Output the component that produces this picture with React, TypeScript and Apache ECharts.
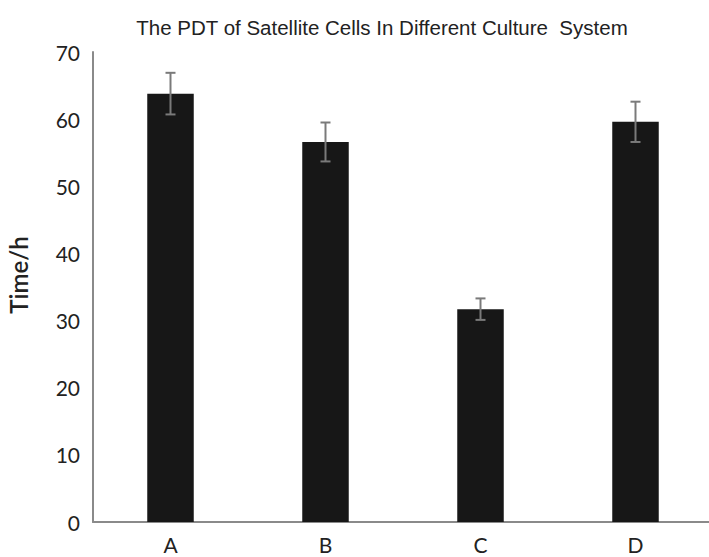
import React, { useEffect, useRef } from "react";
import * as echarts from "echarts";

const categories = ["A", "B", "C", "D"];
const means = [63.8, 56.6, 31.7, 59.6];
const errors = [3.1, 2.9, 1.6, 3.0];
const yTicks = { min: 0, max: 70, interval: 10 };

export default function App() {
  const ref = useRef<HTMLDivElement>(null);
  useEffect(() => {
    if (!ref.current) return;
    const chart = echarts.init(ref.current, undefined, { renderer: "svg" });
    const errData = categories.map((c, i) => [i, means[i] - errors[i], means[i] + errors[i]]);
    chart.setOption({
      animation: false,
      backgroundColor: "#ffffff",
      title: {
        text: "The PDT of Satellite Cells In Different Culture  System",
        left: 377,
        textAlign: "center",
        top: 12,
        textStyle: { fontFamily: "Liberation Sans, Arial, sans-serif", fontSize: 20.5, fontWeight: "normal", color: "#222" },
      },
      grid: { left: 93, right: -4, top: 52, bottom: 35, containLabel: false, outerBoundsMode: "none" },
      xAxis: {
        type: "category",
        data: categories,
        axisLine: { lineStyle: { color: "#8a8a8a", width: 2 } },
        axisTick: { show: false },
        axisLabel: { fontFamily: "Lato, sans-serif", fontSize: 21, color: "#222", margin: 12 },
      },
      yAxis: {
        type: "value",
        min: yTicks.min,
        max: yTicks.max,
        interval: yTicks.interval,
        name: "Time/h",
        nameLocation: "middle",
        nameGap: 63,
        nameTextStyle: { fontFamily: "Lato, sans-serif", fontSize: 24, fontWeight: 600, color: "#222", padding: [0, 0, 0, 24] },
        axisLine: { show: true, lineStyle: { color: "#8a8a8a", width: 2 } },
        axisTick: { show: false },
        splitLine: { show: false },
        axisLabel: { fontFamily: "Lato, sans-serif", fontSize: 21, color: "#222", margin: 13 },
      },
      series: [
        {
          type: "bar",
          data: means,
          barWidth: "30%",
          itemStyle: { color: "#171717" },
        },
        {
          type: "custom",
          data: errData,
          z: 10,
          renderItem: (params: any, api: any) => {
            const x = api.value(0);
            const lo = api.coord([x, api.value(1)]);
            const hi = api.coord([x, api.value(2)]);
            const hw = 5;
            const style = { stroke: "#7a7a7a", lineWidth: 2 };
            return {
              type: "group",
              children: [
                { type: "line", shape: { x1: lo[0], y1: lo[1], x2: hi[0], y2: hi[1] }, style },
                { type: "line", shape: { x1: lo[0] - hw, y1: lo[1], x2: lo[0] + hw, y2: lo[1] }, style },
                { type: "line", shape: { x1: hi[0] - hw, y1: hi[1], x2: hi[0] + hw, y2: hi[1] }, style },
              ],
            };
          },
        },
      ],
    });
    return () => chart.dispose();
  }, []);
  return <div ref={ref} style={{ width: 709, height: 557, position: "absolute", left: 0, top: 0 }} />;
}
